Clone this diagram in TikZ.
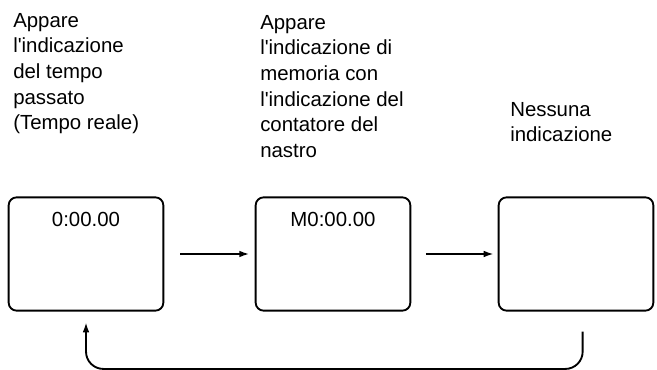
\documentclass[tikz,border=0pt]{standalone}
\usepackage{fontspec}
\setmainfont{Liberation Sans}
\usetikzlibrary{positioning,arrows.meta}

\begin{document}
\begin{tikzpicture}[
  x=0.75pt,
  y=-0.75pt,
  screen/.style={
    draw,
    rectangle,
    rounded corners=6pt,
    line width=1.4pt,
    minimum width=116pt,
    minimum height=85pt
  },
  readout/.style={
    inner sep=0pt,
    font=\fontsize{15.3pt}{19pt}\selectfont
  },
  caption/.style={
    anchor=north west,
    inner sep=0pt,
    align=left,
    font=\fontsize{15.3pt}{19.2pt}\selectfont
  },
  arrow/.style={-{Latex[length=7.5pt,width=5pt]}, line width=1.4pt}
]
\useasboundingbox (0,0) rectangle (657,370);

% Display states.
\node[screen] (elapsed) at (86,254) {};
\node[screen] (memory) at (333,254) {};
\node[screen] (blank) at (576,254) {};

\node[readout, below=12pt of elapsed.north] (elapsedtxt) {0:00.00};
\node[readout, below=12pt of memory.north] (memorytxt) {M0:00.00};

% Captions above the displays.
\node[caption] (capelapsed) at (13,13) {Appare\\l\textquotesingle indicazione\\del tempo\\passato\\(Tempo reale)};
\node[caption] (capmemory) at (260,15) {Appare\\l\textquotesingle indicazione di\\memoria con\\l\textquotesingle indicazione del\\contatore del\\nastro};
\node[caption] (capblank) at (510,102) {Nessuna\\indicazione};

% Cycle arrows.
\draw[arrow, shorten <=12pt, shorten >=4pt] (elapsed) -- (memory);
\draw[arrow, shorten <=11pt, shorten >=3pt] (memory) -- (blank);
\draw[arrow, rounded corners=13pt] ([xshift=5pt, yshift=-15pt]blank.south) |- ([yshift=-43pt]elapsed.south) -- ([yshift=-8pt]elapsed.south);

\end{tikzpicture}
\end{document}
